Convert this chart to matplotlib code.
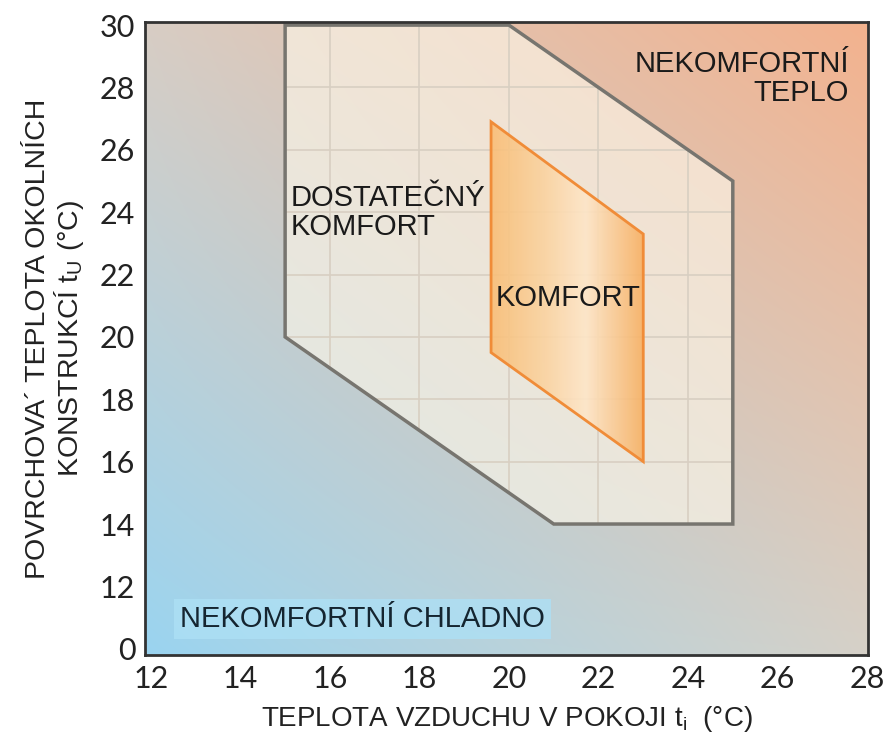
import numpy as np
import matplotlib
matplotlib.use("Agg")
import matplotlib.pyplot as plt
from matplotlib.patches import Polygon
from matplotlib.colors import to_rgb

plt.rcParams['font.family'] = ['Liberation Sans', 'DejaVu Sans']
plt.rcParams['mathtext.fontset'] = 'custom'
plt.rcParams['mathtext.rm'] = 'Liberation Sans'
plt.rcParams['mathtext.it'] = 'Liberation Sans'

# ---- data ----
x_ticks = [12, 14, 16, 18, 20, 22, 24, 26, 28]
y_ticks = [10, 12, 14, 16, 18, 20, 22, 24, 26, 28, 30]      # position 10 is labelled "0"
y_tick_labels = ['0', '12', '14', '16', '18', '20', '22', '24', '26', '28', '30']
grid_x = [16, 18, 20, 22, 24]
grid_y = [14, 16, 18, 20, 22, 24, 26, 28]

ok_x = [15, 15, 21, 25, 25, 20]          # "dostatečný komfort" zone
ok_y = [30, 20, 14, 14, 25, 30]
comfort_x = [19.6, 23.0, 23.0, 19.6]     # "komfort" zone
comfort_y = [26.9, 23.3, 16.0, 19.5]

xlim = (11.87, 28.02)
ylim = (9.8, 30.1)

fig = plt.figure(figsize=(8.84, 7.42), dpi=100)
ax = fig.add_axes([145/884, 1-655/742, (868-145)/884, (655-22)/742])
ax.set_xlim(*xlim)
ax.set_ylim(*ylim)

# background gradient (bilinear between corners)
tl, bl = np.array(to_rgb('#d8cdc4')), np.array(to_rgb('#9ad4f0'))
tr, br = np.array(to_rgb('#f3b28e')), np.array(to_rgb('#d6d1c8'))
n = 300
u = np.linspace(0, 1, n)[None, :, None]
v = np.linspace(0, 1, n)[:, None, None]
img = (1-u)*(1-v)*bl + u*(1-v)*br + (1-u)*v*tl + u*v*tr
ax.imshow(img, extent=[xlim[0], xlim[1], ylim[0], ylim[1]], origin='lower',
          aspect='auto', zorder=0, interpolation='bilinear')

# outer zone
outer = Polygon(np.column_stack([ok_x, ok_y]), closed=True, facecolor='#fdf8ea',
                alpha=0.62, edgecolor='none', zorder=1)
ax.add_patch(outer)
outer_edge = Polygon(np.column_stack([ok_x, ok_y]), closed=True, facecolor='none',
                     edgecolor='#77756f', lw=2.5, zorder=5)
ax.add_patch(outer_edge)

# grid clipped to outer zone
clip_poly = Polygon(np.column_stack([ok_x, ok_y]), closed=True, transform=ax.transData)
for gx in grid_x:
    l, = ax.plot([gx, gx], [ylim[0], ylim[1]], color='#d8cfc2', lw=1.2, zorder=2)
    l.set_clip_path(clip_poly)
for gy in grid_y:
    l, = ax.plot([xlim[0], xlim[1]], [gy, gy], color='#d8cfc2', lw=1.2, zorder=2)
    l.set_clip_path(clip_poly)

# comfort zone with horizontal gradient
cx0, cx1 = min(comfort_x), max(comfort_x)
cy0, cy1 = min(comfort_y), max(comfort_y)
stops = [0.0, 0.35, 0.62, 1.0]
cols = [to_rgb('#f9be76'), to_rgb('#fbd3a0'), to_rgb('#fee6c8'), to_rgb('#f7b062')]
t = np.linspace(0, 1, 200)
grad = np.stack([np.interp(t, stops, [c[i] for c in cols]) for i in range(3)], axis=-1)
grad = np.tile(grad[None, :, :], (10, 1, 1))
im = ax.imshow(grad, extent=[cx0, cx1, cy0, cy1], origin='lower', aspect='auto',
               zorder=3, alpha=0.9, interpolation='bilinear')
cpoly = Polygon(np.column_stack([comfort_x, comfort_y]), closed=True, transform=ax.transData)
im.set_clip_path(cpoly)
ax.add_patch(Polygon(np.column_stack([comfort_x, comfort_y]), closed=True,
                     facecolor='none', edgecolor='#f08c38', lw=2, zorder=6))
ax.set_xlim(*xlim)
ax.set_ylim(*ylim)

# labels
fs = 21
ax.text(15.12, 24.0, 'DOSTATEČNÝ\nKOMFORT', fontsize=fs, ha='left', va='center',
        linespacing=1.05, color='#1a1a1a', zorder=7)
ax.text(21.33, 21.26, 'KOMFORT', fontsize=fs, ha='center', va='center',
        color='#1a1a1a', zorder=7)
ax.text(27.6, 28.28, 'NEKOMFORTNÍ\nTEPLO', fontsize=fs, ha='right', va='center',
        multialignment='right', linespacing=1.05, color='#1a1a1a', zorder=7)
ax.text(16.73, 10.95, 'NEKOMFORTNÍ CHLADNO', fontsize=fs, ha='center', va='center',
        color='#152530', zorder=7,
        bbox=dict(boxstyle='square,pad=0.2', facecolor='#ade0f5', edgecolor='none', alpha=0.8))

ax.set_xticks(x_ticks)
ax.set_xticklabels([str(v) for v in x_ticks])
ax.set_yticks(y_ticks)
ax.set_yticklabels(y_tick_labels)
ax.tick_params(length=0, pad=7, labelsize=22, labelcolor='#222222')
for lab in ax.get_xticklabels() + ax.get_yticklabels():
    lab.set_fontfamily('Lato')

for s in ax.spines.values():
    s.set_color('#333333')
    s.set_linewidth(2)
    s.set_zorder(10)

ax.set_xlabel('TEPLOTA VZDUCHU V POKOJI t$_\\mathrm{i}$  (°C)', fontsize=20,
              color='#222222', labelpad=8)
ax.set_ylabel('POVRCHOVA´ TEPLOTA OKOLNÍCH\nKONSTRUKCÍ t$_\\mathrm{U}$ (°C)', fontsize=20.5,
              color='#222222', labelpad=10, linespacing=1.05)

fig.savefig('out.png', dpi=100)
